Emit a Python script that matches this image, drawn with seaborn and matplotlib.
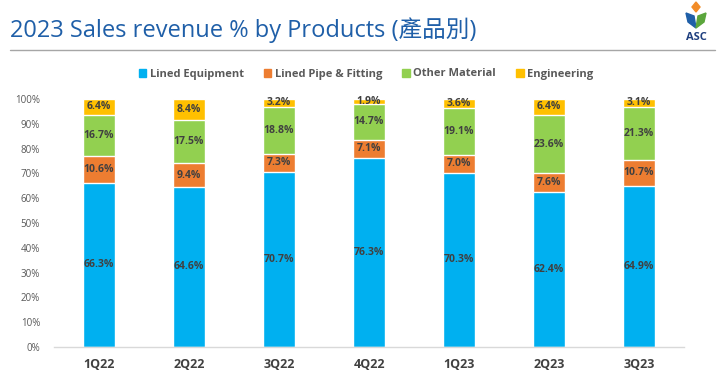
import numpy as np
import pandas as pd
import matplotlib
matplotlib.use("Agg")
import matplotlib.pyplot as plt
from matplotlib.patches import Polygon, Patch
import seaborn as sns

# data
quarters = ['1Q22', '2Q22', '3Q22', '4Q22', '1Q23', '2Q23', '3Q23']
lined_equipment = [66.3, 64.6, 70.7, 76.3, 70.3, 62.4, 64.9]
lined_pipe = [10.6, 9.4, 7.3, 7.1, 7.0, 7.6, 10.7]
other_material = [16.7, 17.5, 18.8, 14.7, 19.1, 23.6, 21.3]
engineering = [6.4, 8.4, 3.2, 1.9, 3.6, 6.4, 3.1]

series_names = ['Lined Equipment', 'Lined Pipe & Fitting', 'Other Material', 'Engineering']
colors = ['#00B0F0', '#ED7D31', '#92D050', '#FFC000']

sns.set_style("white")
plt.rcParams['font.family'] = ['Open Sans', 'Noto Sans CJK TC', 'DejaVu Sans']

df = pd.DataFrame({'Quarter': quarters,
                   'LE': lined_equipment, 'LP': lined_pipe,
                   'OM': other_material, 'EN': engineering})
parts = ['LE', 'LP', 'OM', 'EN']
cum = df[parts].cumsum(axis=1) / 100.0

fig = plt.figure(figsize=(7.2, 3.76), dpi=100)
ax = fig.add_axes([54/720, 29/376, 630/720, 248/376])

# stacked bars: draw the tallest cumulative first, then cover with lower ones
for k in range(len(parts) - 1, -1, -1):
    sns.barplot(x=df['Quarter'], y=cum[parts[k]], color=colors[k], width=0.36,
                saturation=1, ax=ax, legend=False)

# labels centred in each segment
for i in range(len(quarters)):
    bottom = 0
    for k, p in enumerate(parts):
        v = df[p][i] / 100.0
        ax.text(i, bottom + v / 2, f"{df[p][i]:.1f}%", ha='center', va='center',
                fontsize=7.5, fontweight='bold', color='#404040')
        bottom += v

ax.set_xlim(-0.5, 6.5)
ax.set_ylim(0, 1.0)
ax.set_yticks(np.arange(0, 1.01, 0.1))
ax.set_yticklabels([f"{int(t)}%" for t in np.arange(0, 101, 10)])
ax.tick_params(axis='y', labelsize=7, labelcolor='#595959', length=0, pad=10)
ax.tick_params(axis='x', labelsize=9, labelcolor='#404040', length=0, pad=8)
for lab in ax.get_xticklabels():
    lab.set_fontweight('bold')
ax.set_xlabel('')
ax.set_ylabel('')
for s in ['top', 'right', 'left']:
    ax.spines[s].set_visible(False)
ax.spines['bottom'].set_color('#D9D9D9')
ax.spines['bottom'].set_linewidth(1)

# legend in series order
handles = [Patch(color=c) for c in colors]
leg = fig.legend(handles, series_names, loc='center',
                 bbox_to_anchor=(366/720, 1 - 74/376), ncol=4, frameon=False,
                 handlelength=0.7, handleheight=0.7, handletextpad=0.3,
                 columnspacing=1.8, prop={'size': 8, 'weight': 'bold'})
for t in leg.get_texts():
    t.set_color('#595959')

# title and separator
fig.text(10/720, 1 - 30/376, '2023 Sales revenue % by Products (產品別)',
         fontsize=17, color='#1F5FA8', va='center', ha='left')
fig.add_artist(plt.Line2D([10/720, 715/720], [1 - 50/376, 1 - 50/376],
                          color='#A6A6A6', linewidth=1))

# small logo
def px(x, y):
    return (x / 720, 1 - y / 376)
fig.patches.append(Polygon([px(696, 2), px(700, 7), px(696, 12), px(692, 7)],
                           closed=True, color='#F28C28', transform=fig.transFigure))
fig.patches.append(Polygon([px(686, 13), px(694, 16), px(696, 28), px(688, 22)],
                           closed=True, color='#1F5FA8', transform=fig.transFigure))
fig.patches.append(Polygon([px(706, 13), px(698, 16), px(696, 28), px(704, 22)],
                           closed=True, color='#5BA63C', transform=fig.transFigure))
fig.text(696/720, 1 - 38/376, 'ASC', fontsize=8, fontweight='bold', color='#1F3F7F',
         ha='center', va='center')

fig.savefig('out.png', dpi=100)
